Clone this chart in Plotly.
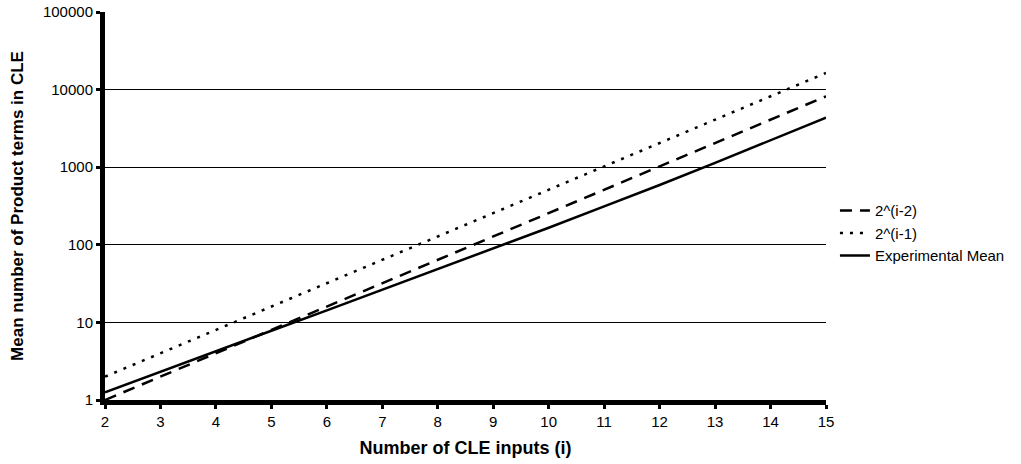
import plotly.graph_objects as go

inputs_i = list(range(2, 16))
pow_i_minus_2 = [2 ** (i - 2) for i in inputs_i]
pow_i_minus_1 = [2 ** (i - 1) for i in inputs_i]
experimental_mean = [1.26, 2.33, 4.3, 7.8, 14.3, 26.3, 48.4, 89, 166, 313, 589, 1135, 2213, 4365]

y_tick_vals = [1, 10, 100, 1000, 10000, 100000]
y_tick_text = ["1", "10", "100", "1000", "10000", "100000"]
x_tick_vals = list(range(2, 16))

font_family = "Liberation Sans, Arial, Helvetica, sans-serif"

fig = go.Figure()
fig.add_trace(go.Scatter(x=inputs_i, y=pow_i_minus_2, mode="lines", name="2^(i-2)",
                         line=dict(color="black", width=2.5, dash="12px,8px")))
fig.add_trace(go.Scatter(x=inputs_i, y=pow_i_minus_1, mode="lines", name="2^(i-1)",
                         line=dict(color="black", width=2.5, dash="3px,7px")))
fig.add_trace(go.Scatter(x=inputs_i, y=experimental_mean, mode="lines", name="Experimental Mean",
                         line=dict(color="black", width=2.5)))

fig.update_layout(
    width=1021, height=464,
    margin=dict(l=105, r=194, t=12, b=64),
    paper_bgcolor="white", plot_bgcolor="white",
    font=dict(family=font_family, color="black", size=15),
    legend=dict(x=1.011, y=0.43, xanchor="left", yanchor="middle",
                font=dict(size=15, color="black"), bgcolor="rgba(0,0,0,0)",
                tracegroupgap=2, itemwidth=30),
    showlegend=True,
)
fig.update_xaxes(
    range=[2, 15], tickvals=x_tick_vals, ticks="outside", ticklen=4, tickwidth=3,
    tickcolor="black", showline=True, linecolor="black", linewidth=5,
    showgrid=False, zeroline=False, automargin=False,
    title=dict(text="<b>Number of CLE inputs (i)</b>", font=dict(size=18), standoff=14),
)
fig.update_yaxes(
    type="log", range=[0, 5], tickvals=y_tick_vals, ticktext=y_tick_text,
    ticks="outside", ticklen=4, tickwidth=3, tickcolor="black",
    showline=True, linecolor="black", linewidth=5,
    showgrid=True, gridcolor="black", gridwidth=1, zeroline=False, automargin=False,
    title=dict(text="<b>Mean number of Product terms in CLE</b>", font=dict(size=17), standoff=16),
)

fig.write_html("out.html", config={"displayModeBar": False},
               post_script="document.body.style.margin='0';")
